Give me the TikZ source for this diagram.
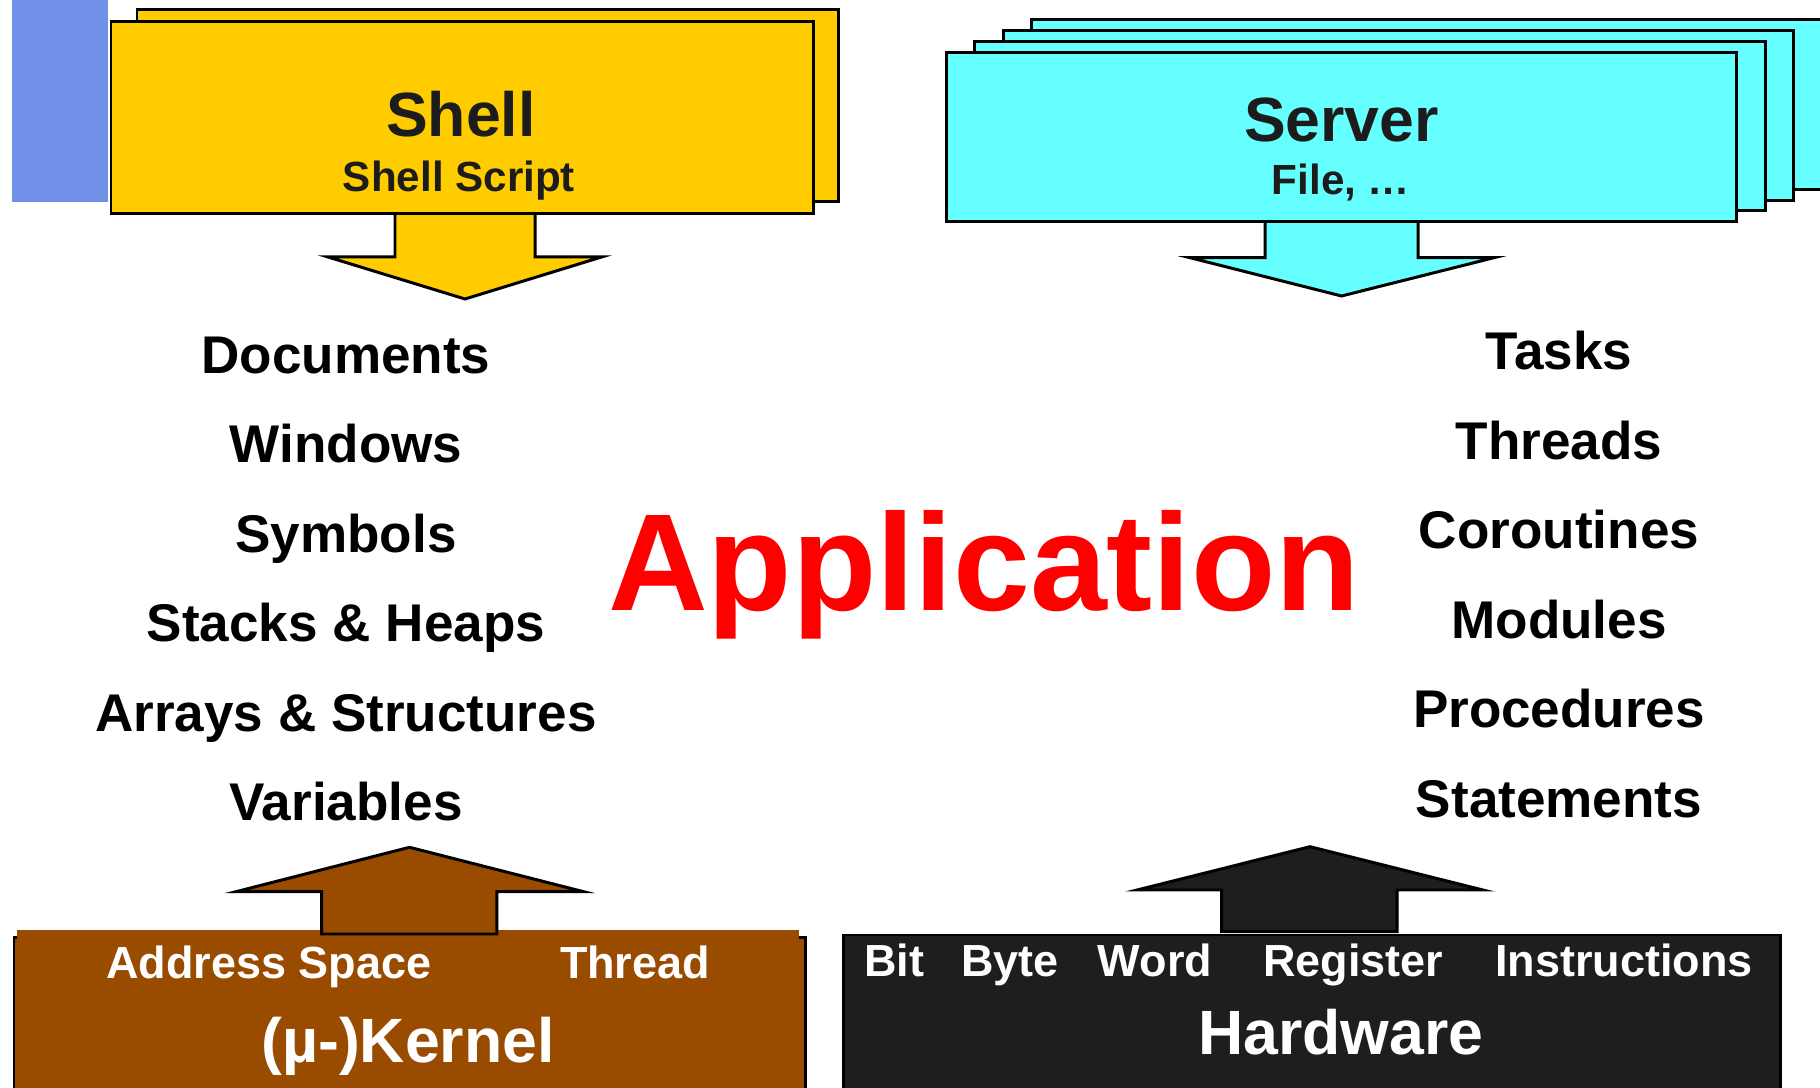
\documentclass[tikz,border=0pt]{standalone}
\usepackage{fontspec}
\setmainfont{Liberation Sans}
\usepackage{tikz}
\tikzset{node distance=8.95mm, auto}

\definecolor{shellyellow}{HTML}{FFCC00}
\definecolor{servercyan}{HTML}{66FFFF}
\definecolor{kernelbrown}{HTML}{994C00}
\definecolor{hwdark}{HTML}{1E1E1E}
\definecolor{barblue}{HTML}{7090E8}
\definecolor{inkdark}{HTML}{1C1C1C}

\tikzset{
  outline/.style={draw=black, line width=0.85pt},
  shellbox/.style={outline, fill=shellyellow},
  serverbox/.style={outline, fill=servercyan},
  blockarrow/.style={outline, line join=miter},
  titletext/.style={font=\fontsize{17.8}{20}\selectfont\bfseries, inner sep=0pt, anchor=base},
  subtext/.style={font=\fontsize{12}{14}\selectfont\bfseries, inner sep=0pt, anchor=base},
  rowtext/.style={font=\fontsize{12.8}{15}\selectfont\bfseries, inner sep=0pt, anchor=base, text=white},
  listitem/.style={font=\fontsize{15.1}{18}\selectfont\bfseries, inner sep=0pt, text height=11pt, text depth=3pt},
  apptext/.style={font=\fontsize{39.3}{44}\selectfont\bfseries, inner sep=0pt, anchor=base, text=red},
}

\begin{document}
\begin{tikzpicture}[x=0.1mm, y=-0.1mm]
  \useasboundingbox (0,0) rectangle (1820,1088);

  % blue bar
  \fill[barblue] (11.6,0) rectangle (108,201.7);

  % shell
  \draw[blockarrow, fill=shellyellow] (395,214) -- (395,257) -- (328,257) -- (465,299)
        -- (601.6,257) -- (535,257) -- (535,214);
  \draw[shellbox] (137,10) rectangle (838,202);
  \draw[shellbox] (111,22) rectangle (813,214);
  \node[titletext, text=inkdark] (shell) at (461,137) {Shell};
  \node[subtext, text=inkdark] (shellsub) at (459,191.7) {Shell Script};

  % server
  \draw[blockarrow, fill=servercyan] (1265,221.7) -- (1265,257.7) -- (1190,257.7) -- (1341.5,296)
        -- (1494,257.7) -- (1418,257.7) -- (1418,221.7);
  \foreach \k in {3,2,1,0}
    \draw[serverbox] (946+28.5*\k,52.3-10.8*\k) rectangle (1736.5+28.5*\k,221.7-10.8*\k);
  \node[titletext, text=inkdark] (server) at (1341.5,141.7) {Server};
  \node[subtext, text=inkdark] (serversub) at (1341,194.3) {File, …};

  % left column
  \node[listitem] (doc) at (346,359) {Documents};
  \node[listitem] (win) [below of=doc] {Windows};
  \node[listitem] (sym) [below of=win] {Symbols};
  \node[listitem] (stk) [below of=sym] {Stacks \& Heaps};
  \node[listitem] (arr) [below of=stk] {Arrays \& Structures};
  \node[listitem] (var) [below of=arr] {Variables};

  % right column
  \node[listitem] (task) at (1559,355.5) {Tasks};
  \node[listitem] (thr)  [below of=task] {Threads};
  \node[listitem] (cor)  [below of=thr]  {Coroutines};
  \node[listitem] (mod)  [below of=cor]  {Modules};
  \node[listitem] (proc) [below of=mod]  {Procedures};
  \node[listitem] (stmt) [below of=proc] {Statements};

  \node[apptext] (app) at (984,611) {Application};

  % kernel
  \draw[outline, fill=kernelbrown] (14,937.7) rectangle (805.7,1110);
  \fill[kernelbrown] (17,930) rectangle (799,960);
  \draw[blockarrow, fill=kernelbrown] (321.6,934) -- (321.6,891.7) -- (236,891.7) -- (409.5,847.3)
        -- (583.6,891.7) -- (496.9,891.7) -- (496.9,934) -- cycle;
  \node[rowtext] (aspace) at (269,978.3) {Address Space};
  \node[rowtext] (kthr) at (635,978.3) {Thread};
  \node[titletext, text=white] (kernel) at (408,1062.3) {(µ-)Kernel};

  % hardware
  \draw[outline, fill=hwdark] (843.3,935) rectangle (1780,1110);
  \draw[blockarrow, fill=hwdark] (1221.5,931.7) -- (1221.5,890) -- (1137,890) -- (1310,846.7)
        -- (1483,890) -- (1397,890) -- (1397,931.7) -- cycle;
  \node[rowtext] (bit)  at (894.4,976) {Bit};
  \node[rowtext] (byte) at (1009.8,976) {Byte};
  \node[rowtext] (word) at (1155,976) {Word};
  \node[rowtext] (reg)  at (1353.4,976) {Register};
  \node[rowtext] (ins)  at (1624,976) {Instructions};
  \node[titletext, text=white] (hw) at (1341,1054) {Hardware};
\end{tikzpicture}
\end{document}
